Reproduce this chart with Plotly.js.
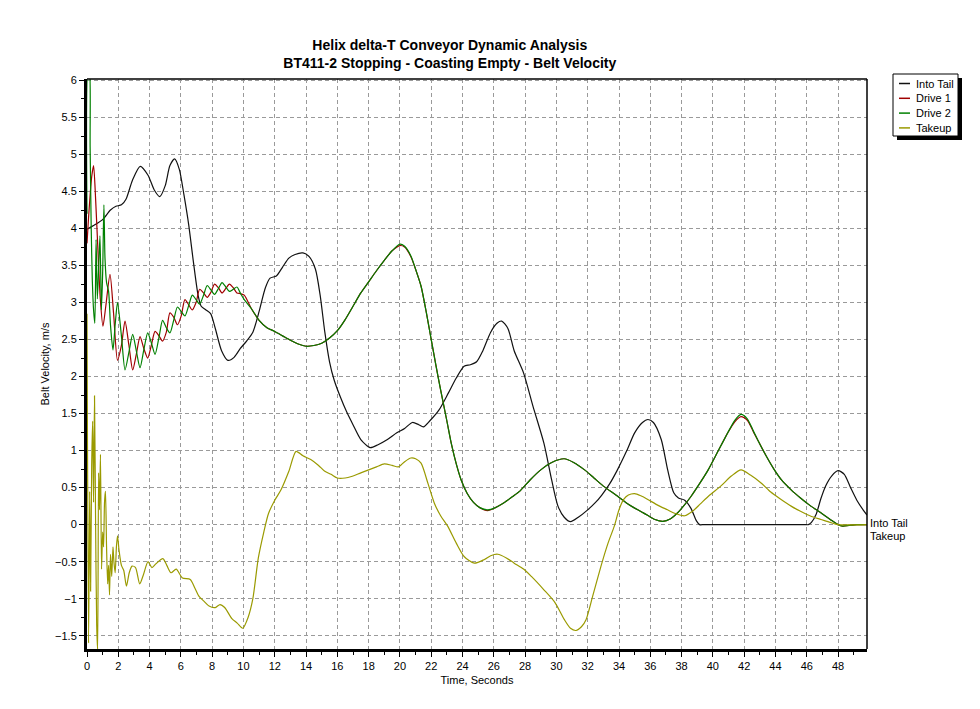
<!DOCTYPE html>
<html>
<head>
<meta charset="utf-8">
<script src="https://cdn.plot.ly/plotly-3.0.1.min.js"></script>
<style>html,body{margin:0;padding:0;background:#fff;}#chart{width:980px;height:709px;}</style>
</head>
<body>
<div id="chart"></div>
<script>
// ---- data ----
const seriesNames = ['Into Tail', 'Drive 1', 'Drive 2', 'Takeup'];

const tailT = [0, 0.5, 1.0, 1.5, 1.85, 2.2, 2.5, 2.9, 3.4, 3.9,
  4.3, 4.65, 5.0, 5.3, 5.6, 5.9, 6.2, 6.5, 6.8, 7.1,
  7.3, 7.6, 7.9, 8.2, 8.6, 9.0, 9.4, 9.8, 10.2, 10.6,
  11.0, 11.4, 11.7, 12.1, 12.5, 12.9, 13.3, 13.8, 14.2, 14.6,
  14.9, 15.2, 15.5, 15.8, 16.2, 16.6, 17.0, 17.5, 18.1, 18.6,
  19.2, 19.8, 20.3, 20.8, 21.2, 21.5, 21.9, 22.5, 23.1, 23.6,
  24.1, 24.5, 24.9, 25.3, 25.8, 26.2, 26.5, 26.9, 27.3, 27.9,
  28.5, 29.2, 29.7, 30.1, 30.5, 30.9, 31.4, 32.0, 32.5, 32.9,
  33.4, 33.9, 34.5, 35.0, 35.5, 35.85, 36.2, 36.7, 37.1, 37.5,
  37.8, 38.2, 38.6, 38.95, 39.15, 39.4, 40.0, 42.0, 44.0, 45.9,
  46.1, 46.3, 46.6, 46.9, 47.2, 47.6, 48.0, 48.4, 48.8, 49.2,
  49.6, 49.85];
const tailV = [3.99, 4.05, 4.12, 4.25, 4.3, 4.32, 4.4, 4.65, 4.84, 4.72,
  4.52, 4.43, 4.58, 4.85, 4.94, 4.8, 4.45, 4.05, 3.55, 3.1,
  2.95, 2.9, 2.85, 2.65, 2.35, 2.22, 2.26, 2.38, 2.48, 2.6,
  2.88, 3.2, 3.33, 3.36, 3.48, 3.6, 3.65, 3.67, 3.62, 3.45,
  3.1, 2.6, 2.2, 1.95, 1.72, 1.52, 1.35, 1.15, 1.04, 1.08,
  1.15, 1.24, 1.3, 1.38, 1.35, 1.32, 1.4, 1.55, 1.78, 1.98,
  2.14, 2.16, 2.2, 2.35, 2.6, 2.72, 2.75, 2.65, 2.35, 2.05,
  1.6, 1.1, 0.6, 0.25, 0.1, 0.04, 0.1, 0.2, 0.3, 0.4,
  0.55, 0.74, 1.0, 1.24, 1.38, 1.42, 1.38, 1.15, 0.75, 0.43,
  0.36, 0.33, 0.22, 0.05, 0, 0, 0, 0, 0, 0,
  0, 0.03, 0.14, 0.35, 0.52, 0.66, 0.73, 0.68, 0.5, 0.33,
  0.2, 0.13];

const drive1T = [0, 0.1, 0.2, 0.3, 0.42, 0.55, 0.7, 0.85, 1.02, 1.2,
  1.47, 1.7, 1.95, 2.2, 2.43, 2.68, 2.92, 3.15, 3.39, 3.63,
  3.88, 4.12, 4.35, 4.6, 4.83, 5.07, 5.3, 5.55, 5.78, 6.02,
  6.26, 6.5, 6.73, 6.97, 7.2, 7.45, 7.68, 7.92, 8.15, 8.4,
  8.63, 8.87, 9.1, 9.35, 9.58, 9.82, 10.05,
  10.5, 11.0, 11.5, 12.0, 12.5, 13.0, 13.5, 14.0, 14.5, 15.0,
  15.5, 16.0, 16.5, 17.0, 17.5, 18.0, 18.5, 19.0, 19.5, 20.0,
  20.3, 20.7, 21.0, 21.35, 21.7, 22.0, 22.3, 22.6, 23.0, 23.3,
  23.6, 23.9, 24.3, 24.7, 25.1, 25.6, 26.1, 26.6, 27.2, 27.7,
  28.3, 29.0, 29.7, 30.5, 31.1, 31.8, 32.4, 33.0, 33.8, 34.5,
  35.2, 35.8, 36.3, 36.8, 37.3, 37.75, 38.2, 38.6, 39.2, 39.7,
  40.3, 40.95, 41.4, 41.8, 42.2, 42.6, 42.9, 43.4, 43.9, 44.4,
  45.0, 45.6, 46.2, 46.9, 47.5, 48.0, 48.3, 48.7, 49.2, 49.85];
const drive1V = [3.8, 4.15, 4.45, 4.7, 4.85, 4.4, 3.7, 3.05, 2.68, 2.95,
  3.38, 2.85, 2.22, 2.42, 2.75, 2.42, 2.09, 2.3, 2.54, 2.38,
  2.25, 2.43, 2.61, 2.55, 2.48, 2.6, 2.86, 2.8, 2.7, 2.82,
  3.04, 2.97, 2.9, 3.0, 3.18, 3.13, 3.07, 3.14, 3.25, 3.2,
  3.13, 3.19, 3.25, 3.2, 3.13, 3.12, 3.1,
  2.92, 2.76, 2.66, 2.61, 2.55, 2.49, 2.44, 2.41, 2.42, 2.45,
  2.52, 2.62, 2.77, 2.95, 3.13, 3.28, 3.43, 3.57, 3.7, 3.77,
  3.75, 3.62, 3.45, 3.22, 2.85, 2.5, 2.15, 1.82, 1.4, 1.08,
  0.82, 0.61, 0.42, 0.3, 0.23, 0.19, 0.23, 0.29, 0.38, 0.46,
  0.6, 0.74, 0.84, 0.89, 0.84, 0.74, 0.63, 0.52, 0.4, 0.29,
  0.2, 0.13, 0.07, 0.045, 0.08, 0.16, 0.27, 0.38, 0.57, 0.74,
  0.98, 1.24, 1.39, 1.46, 1.41, 1.25, 1.13, 0.93, 0.75, 0.6,
  0.47, 0.36, 0.26, 0.16, 0.07, 0.0, -0.02, -0.01, 0, 0];

const drive2T = [0, 0.08, 0.14, 0.2, 0.27, 0.34, 0.42, 0.5, 0.58, 0.66,
  0.75, 0.83, 0.92, 1.0, 1.08, 1.15, 1.25, 1.38, 1.5, 1.66,
  1.8, 1.95, 2.2, 2.43, 2.68, 2.92, 3.15, 3.39, 3.63, 3.88,
  4.12, 4.35, 4.6, 4.83, 5.07, 5.3, 5.55, 5.78, 6.02, 6.26,
  6.5, 6.73, 6.97, 7.2, 7.45, 7.68, 7.92, 8.15, 8.4, 8.63,
  8.87, 9.1, 9.35, 9.58, 9.82, 10.05,
  10.5, 11.0, 11.5, 12.0, 12.5, 13.0, 13.5, 14.0, 14.5, 15.0,
  15.5, 16.0, 16.5, 17.0, 17.5, 18.0, 18.5, 19.0, 19.5, 20.0,
  20.3, 20.7, 21.0, 21.35, 21.7, 22.0, 22.3, 22.6, 23.0, 23.3,
  23.6, 23.9, 24.3, 24.7, 25.1, 25.6, 26.1, 26.6, 27.2, 27.7,
  28.3, 29.0, 29.7, 30.5, 31.1, 31.8, 32.4, 33.0, 33.8, 34.5,
  35.2, 35.8, 36.3, 36.8, 37.3, 37.75, 38.2, 38.6, 39.2, 39.7,
  40.3, 40.95, 41.4, 41.8, 42.2, 42.6, 42.9, 43.4, 43.9, 44.4,
  45.0, 45.6, 46.2, 46.9, 47.5, 48.0, 48.3, 48.7, 49.2, 49.85];
const drive2V = [4.2, 6.2, 6.2, 5.1, 4.0, 3.3, 2.9, 2.72, 3.85, 3.05,
  3.5, 3.9, 2.9, 3.4, 4.32, 3.6, 3.27, 3.15, 2.7, 2.36,
  2.7, 3.0, 2.55, 2.09, 2.33, 2.57, 2.35, 2.12, 2.36, 2.59,
  2.45, 2.3, 2.53, 2.76, 2.66, 2.59, 2.77, 2.94, 2.88, 2.82,
  2.96, 3.1, 3.04, 2.98, 3.1, 3.23, 3.17, 3.11, 3.19, 3.27,
  3.21, 3.15, 3.18, 3.21, 3.12, 3.04,
  2.92, 2.76, 2.66, 2.61, 2.55, 2.49, 2.44, 2.41, 2.42, 2.45,
  2.52, 2.62, 2.77, 2.95, 3.13, 3.28, 3.43, 3.57, 3.7, 3.79,
  3.76, 3.63, 3.45, 3.22, 2.85, 2.5, 2.15, 1.82, 1.4, 1.08,
  0.82, 0.61, 0.42, 0.3, 0.23, 0.2, 0.23, 0.29, 0.38, 0.46,
  0.6, 0.74, 0.84, 0.89, 0.84, 0.74, 0.63, 0.52, 0.4, 0.29,
  0.2, 0.13, 0.07, 0.045, 0.08, 0.16, 0.27, 0.38, 0.57, 0.74,
  0.98, 1.24, 1.41, 1.49, 1.43, 1.26, 1.13, 0.93, 0.75, 0.6,
  0.47, 0.36, 0.26, 0.16, 0.07, 0.0, -0.02, -0.01, 0, 0];

const takeupT = [0, 0.1, 0.17, 0.23, 0.3, 0.36, 0.42, 0.48, 0.55, 0.62,
  0.68, 0.74, 0.8, 0.86, 0.93, 1.0, 1.06, 1.12, 1.18, 1.25,
  1.32, 1.38, 1.44, 1.5, 1.58, 1.66, 1.72, 1.8, 1.88, 1.95,
  2.05, 2.2, 2.35, 2.52, 2.7, 2.88, 3.1, 3.37, 3.6, 3.9,
  4.15, 4.4, 4.85, 5.1, 5.37, 5.7, 6.1, 6.6, 6.9, 7.16,
  7.5, 7.8, 8.2, 8.5, 8.8, 9.26, 9.6, 9.95, 10.3, 10.6,
  10.95, 11.3, 11.6, 12.0, 12.4, 12.9, 13.36, 13.8, 14.3, 14.8,
  15.2, 15.6, 16.0, 16.5, 16.9, 17.5, 18.0, 18.5, 19.0, 19.5,
  19.9, 20.3, 20.7, 21.0, 21.35, 21.8, 22.2, 22.6, 23.05, 23.6,
  24.1, 24.75, 25.4, 25.8, 26.25, 26.8, 27.3, 27.9, 28.4, 29.2,
  29.9, 30.5, 30.9, 31.25, 31.6, 31.9, 32.3, 32.85, 33.3, 33.7,
  34.0, 34.3, 34.6, 35.0, 35.4, 35.84, 36.5, 37.1, 37.6, 38.2,
  38.7, 39.2, 39.8, 40.5, 41.2, 41.8, 42.4, 43.1, 43.7, 44.36,
  45.0, 45.6, 46.3, 46.9, 47.5, 48.0, 49.85];
const takeupV = [2.85, -1.6, 0.45, -0.9, 0.8, 1.4, 0.3, 1.74, 0.0, -1.36,
  -1.7, 0.7, 0.2, 0.95, -0.6, -0.1, -0.3, 0.3, 0.45, -0.3,
  -0.8, -0.55, -0.95, -0.4, -0.7, -0.3, -0.5, -0.65, -0.3, -0.15,
  -0.35, -0.55, -0.62, -0.83, -0.65, -0.56, -0.58, -0.8, -0.68, -0.5,
  -0.58, -0.53, -0.46, -0.55, -0.65, -0.6, -0.72, -0.74, -0.86, -0.97,
  -1.04, -1.1, -1.12, -1.08, -1.12, -1.27, -1.33, -1.4, -1.25, -1.0,
  -0.45, -0.1, 0.15, 0.33, 0.47, 0.72, 0.99, 0.93, 0.88, 0.8,
  0.72, 0.68, 0.63, 0.63, 0.65, 0.7, 0.74, 0.78, 0.82, 0.8,
  0.78, 0.85, 0.9, 0.89, 0.83, 0.55, 0.29, 0.12, -0.02, -0.25,
  -0.43, -0.52, -0.47, -0.42, -0.4, -0.45, -0.52, -0.6, -0.7, -0.88,
  -1.05, -1.28, -1.4, -1.43, -1.38, -1.28, -0.98, -0.56, -0.25, -0.02,
  0.2, 0.34, 0.4, 0.42, 0.39, 0.34, 0.26, 0.2, 0.15, 0.12,
  0.18, 0.28, 0.4, 0.52, 0.66, 0.74, 0.67, 0.56, 0.44, 0.34,
  0.25, 0.18, 0.11, 0.07, 0.03, 0.0, 0.0];

const endLabels = ['Into Tail', 'Takeup'];
const xTickStep = 2, yTickStep = 0.5;

// ---- chart ----
const FONT = 'Liberation Sans, Arial, Helvetica, sans-serif';
const colors = ['#111111', '#a00000', '#008000', '#9a9a00'];
const xs = [tailT, drive1T, drive2T, takeupT];
const ys = [tailV, drive1V, drive2V, takeupV];

const traces = seriesNames.map((name, i) => ({
  type: 'scatter', mode: 'lines', name: name,
  x: xs[i], y: ys[i],
  line: {color: colors[i], width: 1.2, shape: 'spline', smoothing: 0.7},
  showlegend: false
}));

// legend drawn as a boxed key with a drop shadow (paper coordinates)
const legPx = {left: 893, right: 958, top: 74, bottom: 136, rowTop: 83.5, rowStep: 14.8,
               lineX0: 899, lineX1: 910, textX: 914};
const PL = 87, PW = 780, PB = 649, PH = 570;
const px2x = p => (p - PL) / PW;
const py2y = p => (PB - p) / PH;

const shapes = [
  {type: 'rect', xref: 'paper', yref: 'paper',
   x0: px2x(legPx.left + 4), x1: px2x(legPx.right + 4), y0: py2y(legPx.bottom + 4), y1: py2y(legPx.top + 4),
   fillcolor: '#000', line: {width: 0}, layer: 'above'},
  {type: 'rect', xref: 'paper', yref: 'paper',
   x0: px2x(legPx.left), x1: px2x(legPx.right), y0: py2y(legPx.bottom), y1: py2y(legPx.top),
   fillcolor: '#fff', line: {color: '#000', width: 1}, layer: 'above'},
  {type: 'line', xref: 'paper', yref: 'paper', x0: 0, x1: 1, y0: 1, y1: 1, line: {color: '#000', width: 1.5}},
  {type: 'line', xref: 'paper', yref: 'paper', x0: 1, x1: 1, y0: 0, y1: 1, line: {color: '#000', width: 1.5}}
];
const annotations = [
  {x: 49.85, y: 0.02, xref: 'x', yref: 'y', text: endLabels[0], showarrow: false,
   xanchor: 'left', yanchor: 'middle', xshift: 1, font: {family: FONT, size: 11, color: '#000'}},
  {x: 49.85, y: -0.15, xref: 'x', yref: 'y', text: endLabels[1], showarrow: false,
   xanchor: 'left', yanchor: 'middle', xshift: 1, font: {family: FONT, size: 11, color: '#000'}}
];
seriesNames.forEach((name, i) => {
  const yc = legPx.rowTop + i * legPx.rowStep;
  shapes.push({type: 'line', xref: 'paper', yref: 'paper',
    x0: px2x(legPx.lineX0), x1: px2x(legPx.lineX1), y0: py2y(yc), y1: py2y(yc),
    line: {color: colors[i], width: 1.5}, layer: 'above'});
  annotations.push({xref: 'paper', yref: 'paper', x: px2x(legPx.textX), y: py2y(yc),
    text: name, showarrow: false, xanchor: 'left', yanchor: 'middle',
    font: {family: FONT, size: 11, color: '#000'}});
});

const axisCommon = {
  ticks: 'outside', ticklen: 5, tickwidth: 1, tickcolor: '#000',
  showline: true, linecolor: '#000', linewidth: 3,
  showgrid: true, gridcolor: '#9a9a9a', gridwidth: 1, griddash: '4px,3px',
  zeroline: false, tickfont: {family: FONT, size: 11, color: '#000'}
};

const layout = {
  width: 980, height: 709,
  paper_bgcolor: '#ffffff', plot_bgcolor: '#ffffff',
  margin: {l: 87, r: 113, t: 79, b: 60},
  font: {family: FONT, size: 11, color: '#000'},
  title: {
    text: 'Helix delta-T Conveyor Dynamic Analysis<br>BT411-2 Stopping - Coasting Empty - Belt Velocity',
    x: 0.459, xanchor: 'center', xref: 'container',
    y: 0.930, yanchor: 'middle', yref: 'container',
    font: {family: FONT, size: 14, weight: 'bold', color: '#000'}
  },
  xaxis: Object.assign({}, axisCommon, {
    range: [0, 49.85], tick0: 0, dtick: xTickStep,
    minor: {dtick: 1, ticks: 'outside', ticklen: 3, tickcolor: '#000', showgrid: false},
    title: {text: 'Time, Seconds', standoff: 6, font: {family: FONT, size: 11, color: '#000'}}
  }),
  yaxis: Object.assign({}, axisCommon, {
    range: [-1.68, 6.02], tick0: 0, dtick: yTickStep,
    minor: {dtick: 0.25, ticks: 'outside', ticklen: 3, tickcolor: '#000', showgrid: false},
    title: {text: 'Belt Velocity, m/s', standoff: 4, font: {family: FONT, size: 11, color: '#000'}}
  }),
  showlegend: false,
  shapes: shapes,
  annotations: annotations
};

Plotly.newPlot('chart', traces, layout, {displayModeBar: false, staticPlot: true});
</script>
</body>
</html>
